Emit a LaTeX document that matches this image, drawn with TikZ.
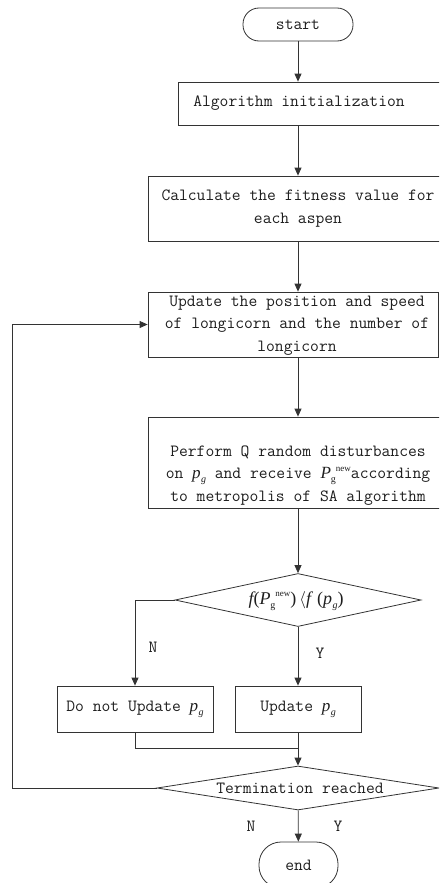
\documentclass[tikz,border=0pt]{standalone}
\usepackage{fontspec}
\newfontfamily\tms{Liberation Serif}
\usetikzlibrary{arrows.meta,shapes.geometric}
\definecolor{ink}{HTML}{333333}
\definecolor{txtc}{HTML}{1E1E1E}
% italic p with subscript g, and P with sub g / sup new
\newcommand\pgsym{{\tms\itshape p\kern0.3pt\raisebox{-0.45ex}{\fontsize{10}{10}\selectfont g}}}
\newcommand\pnewsym{{\tms\itshape P}{\tms\raisebox{-0.45ex}{\fontsize{10}{10}\selectfont g}\raisebox{1.0ex}{\fontsize{9}{9}\selectfont new}}}
\begin{document}
\begin{tikzpicture}[x=1pt,y=-1pt]
\tikzset{
  ln/.style={draw=ink, line width=0.8pt},
  arr/.style={ln, -{Triangle[length=8pt,width=7pt]}},
  boxnode/.style={draw=ink, line width=0.8pt, rectangle, inner sep=0pt},
  termnode/.style={boxnode, rounded corners=16pt},
  dianode/.style={draw=ink, line width=0.8pt, diamond, inner sep=0pt},
  txt/.style={text=txtc, align=center, inner sep=0pt, font=\ttfamily\fontsize{17.1}{22.5}\selectfont},
  lab/.style={text=txtc, inner sep=0pt, font=\ttfamily\fontsize{17.1}{17}\selectfont}
}
\useasboundingbox (0,0) rectangle (439,883);
\clip (0,0) rectangle (439,883);

% terminals
\node[termnode, minimum width=110pt, minimum height=33pt] (start) at (298,24.5) {};
\node[txt] (tstart) at (start) {start};

% process boxes
\node[boxnode, minimum width=272pt, minimum height=43pt] (b1) at (314,103.5) {};
\node[txt] (t1) at (299,103.5) {Algorithm initialization};

\node[boxnode, minimum width=300pt, minimum height=65pt] (b2) at (298,208.5) {};
\node[txt] (t2) at (298,208.5) {Calculate the fitness value for\\each aspen};

\node[boxnode, minimum width=290.5pt, minimum height=65pt] (b3) at (293.25,324.5) {};
\node[txt] (t3) at (297,325.5) {Update the position and speed\\of longicorn and the number of\\longicorn};

\node[boxnode, minimum width=300pt, minimum height=91pt] (b4) at (298,462.5) {};
\node[txt] (t4) at (298,475.5) {Perform Q random disturbances\\on \pgsym\ and receive \pnewsym according\\to metropolis of SA algorithm};

% first decision
\node[dianode, minimum width=246pt, minimum height=53pt] (d1) at (298,600) {};
\node[txt, font=\fontsize{18}{18}\selectfont\tms] (td1) at (296,601)
  {{\itshape f}(\pnewsym)\,\raisebox{0.1ex}{\(\langle\)}{\itshape f}\hspace{6pt}(\pgsym)};

\node[boxnode, minimum width=156pt, minimum height=46pt] (no) at (135,709) {};
\node[txt] (tno) at (135,709.5) {Do not Update \pgsym};

\node[boxnode, minimum width=126pt, minimum height=46pt] (yes) at (298,709) {};
\node[txt] (tyes) at (298,709.5) {Update \pgsym};

% second decision
\node[dianode, minimum width=282pt, minimum height=44pt] (d2) at (298,788) {};
\node[txt] (td2) at (300,788) {Termination reached};

\node[boxnode, rounded corners=22pt, minimum width=79pt, minimum height=46pt] (stop) at (298.5,865) {};
\node[txt] (tstop) at (298.5,865) {end};

% branch labels
\node[lab] (ln1) at (153,647) {N};
\node[lab] (ly1) at (320,653) {Y};
\node[lab] (ln2) at (251,826) {N};
\node[lab] (ly2) at (338,826) {Y};

% helper points
\coordinate (join) at (298,748);
\coordinate (loopx) at (12,0);

% connectors
\draw[arr] (start) -- (start |- b1.north);
\draw[arr] (start |- b1.south) -- (b2);
\draw[arr] (b2.south -| start) -- (b3.north -| start);
\draw[arr] (b3.south -| start) -- (b4.north -| start);
\draw[arr] (b4.south -| start) -- (d1);
\draw[arr] (d1.west) -| (no.north);
\draw[arr] (d1) -- (yes);
\draw[ln] (no.south) |- (join);
\draw[arr] (yes) -- (d2);
\draw[arr] (d2.west) -- (d2.west -| loopx) |- (b3.west);
\draw[arr] (d2) -- (stop);
\end{tikzpicture}
\end{document}
